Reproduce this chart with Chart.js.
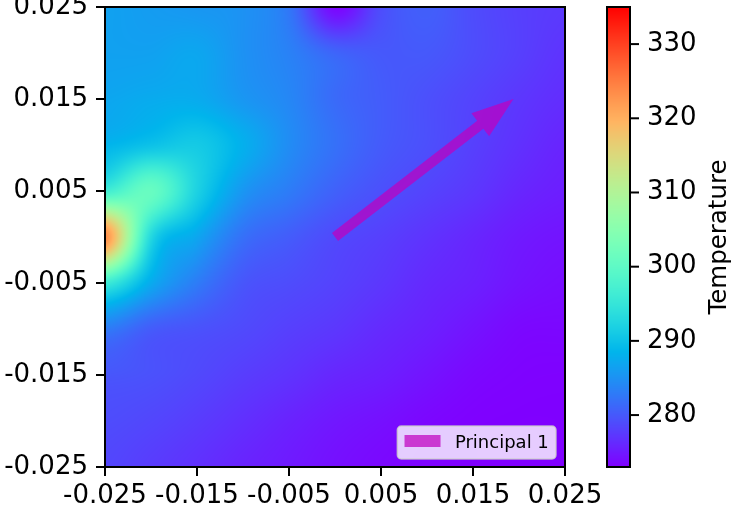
<!DOCTYPE html>
<html>
<head>
<meta charset="utf-8">
<script src="https://cdn.jsdelivr.net/npm/chart.js@4.4.1/dist/chart.umd.min.js"></script>
<style>
    html, body { margin: 0; padding: 0; background: #fff; }
    #wrap { width: 748px; height: 515px; }
</style>
</head>
<body>
<div id="wrap"><canvas id="heatChart" width="748" height="515"></canvas></div>
<script>
// grid nodes (x left->right, y top->bottom)
const xNodes = [-0.025, -0.02, -0.015, -0.01, -0.005, 0, 0.005, 0.01, 0.015, 0.02, 0.025];
const yNodes = [0.025, 0.02, 0.015, 0.01, 0.005, 0, -0.005, -0.01, -0.015, -0.02, -0.025];

// temperature at each node, one row per yNodes entry
const temperature = [
    [286.5, 286.0, 285.5, 285.0, 282.5, 273.5, 279.0, 280.5, 279.0, 278.0, 277.5],
    [286.5, 286.5, 287.0, 285.0, 283.5, 281.0, 280.0, 280.0, 279.0, 278.0, 277.0],
    [287.0, 287.5, 287.5, 285.5, 284.0, 281.5, 280.3, 279.3, 278.3, 277.3, 276.5],
    [288.5, 290.0, 291.0, 288.0, 284.5, 282.0, 280.2, 279.2, 278.0, 276.8, 275.8],
    [296.5, 301.0, 292.0, 285.5, 283.0, 280.7, 279.3, 278.3, 277.3, 276.0, 275.3],
    [323.5, 293.0, 287.0, 282.0, 280.3, 278.8, 278.0, 277.0, 276.0, 275.0, 274.5],
    [296.0, 287.5, 283.0, 279.8, 279.0, 278.2, 277.3, 276.2, 275.5, 274.5, 274.0],
    [283.0, 280.3, 279.5, 278.8, 278.0, 277.3, 276.3, 275.5, 274.5, 273.6, 273.5],
    [279.8, 279.4, 278.7, 277.8, 277.0, 276.0, 275.4, 274.5, 273.6, 273.2, 273.1],
    [279.0, 278.5, 277.7, 276.7, 275.7, 274.8, 274.2, 273.5, 273.1, 273.0, 273.0],
    [278.5, 277.7, 276.8, 275.8, 275.0, 274.2, 273.6, 273.2, 273.0, 273.0, 273.0]
];

const axisTicks = [-0.025, -0.015, -0.005, 0.005, 0.015, 0.025];
const axisTickLabels = ['-0.025', '-0.015', '-0.005', '0.005', '0.015', '0.025'];
const colorbarTicks = [280, 290, 300, 310, 320, 330];
const tempMin = 273;
const tempMax = 335;

const arrowFrom = { x: 0, y: 0 };
const arrowTo = { x: 0.0194, y: 0.015 };
const arrowLabel = 'Principal 1';
const colorbarLabel = 'Temperature';

const FONT = '"DejaVu Sans", sans-serif';
const ARROW_COLOR = 'rgba(191, 0, 191, 0.72)';

// matplotlib "rainbow" colormap
function rainbow(t) {
    t = Math.min(1, Math.max(0, t));
    const r = Math.min(1, Math.abs(2 * t - 0.5));
    const g = Math.sin(Math.PI * t);
    const b = Math.cos(Math.PI * t / 2);
    return [Math.round(r * 255), Math.round(g * 255), Math.round(b * 255)];
}

function clampIdx(i, n) {
    return Math.max(0, Math.min(n - 1, i));
}

function cubic(p0, p1, p2, p3, t) {
    return p1 + 0.5 * t * (p2 - p0 + t * (2 * p0 - 5 * p1 + 4 * p2 - p3 + t * (3 * (p1 - p2) + p3 - p0)));
}

// smooth sample of the node grid at fractional indices
function sampleGrid(fx, fy) {
    const nx = xNodes.length, ny = yNodes.length;
    let ix = Math.floor(fx), iy = Math.floor(fy);
    if (ix > nx - 2) ix = nx - 2;
    if (iy > ny - 2) iy = ny - 2;
    const tx = fx - ix, ty = fy - iy;
    const cols = [];
    for (let m = -1; m <= 2; m++) {
        const row = temperature[clampIdx(iy + m, ny)];
        cols.push(cubic(row[clampIdx(ix - 1, nx)], row[clampIdx(ix, nx)], row[clampIdx(ix + 1, nx)], row[clampIdx(ix + 2, nx)], tx));
    }
    return cubic(cols[0], cols[1], cols[2], cols[3], ty);
}

const heatmapPlugin = {
    id: 'heatmap',
    beforeDatasetsDraw(chart) {
        const { ctx, chartArea: a, scales: { x, y } } = chart;
        const left = Math.round(a.left), top = Math.round(a.top);
        const w = Math.round(a.right) - left, h = Math.round(a.bottom) - top;
        const img = ctx.createImageData(w, h);
        const nx = xNodes.length, ny = yNodes.length;
        const x0 = xNodes[0], x1 = xNodes[nx - 1];
        const y0 = yNodes[0], y1 = yNodes[ny - 1];
        for (let j = 0; j < h; j++) {
            const yv = y.getValueForPixel(top + j + 0.5);
            const fy = Math.max(0, Math.min(ny - 1, (y0 - yv) / (y0 - y1) * (ny - 1)));
            for (let i = 0; i < w; i++) {
                const xv = x.getValueForPixel(left + i + 0.5);
                const fx = Math.max(0, Math.min(nx - 1, (xv - x0) / (x1 - x0) * (nx - 1)));
                const v = sampleGrid(fx, fy);
                const c = rainbow((v - tempMin) / (tempMax - tempMin));
                const k = (j * w + i) * 4;
                img.data[k] = c[0];
                img.data[k + 1] = c[1];
                img.data[k + 2] = c[2];
                img.data[k + 3] = 255;
            }
        }
        ctx.putImageData(img, left, top);
    },
    afterDatasetsDraw(chart) {
        const { ctx, chartArea: a } = chart;
        const meta = chart.getDatasetMeta(0);
        const p0 = meta.data[0], p1 = meta.data[1];

        // arrow
        const dx = p1.x - p0.x, dy = p1.y - p0.y;
        const len = Math.hypot(dx, dy);
        const ux = dx / len, uy = dy / len;
        const nxv = -uy, nyv = ux;
        const sw = 5, hw = 14.5, hl = 42;
        const bx = p1.x - ux * hl, by = p1.y - uy * hl;
        ctx.save();
        ctx.beginPath();
        ctx.moveTo(p0.x + nxv * sw, p0.y + nyv * sw);
        ctx.lineTo(bx + nxv * sw, by + nyv * sw);
        ctx.lineTo(bx + nxv * hw, by + nyv * hw);
        ctx.lineTo(p1.x, p1.y);
        ctx.lineTo(bx - nxv * hw, by - nyv * hw);
        ctx.lineTo(bx - nxv * sw, by - nyv * sw);
        ctx.lineTo(p0.x - nxv * sw, p0.y - nyv * sw);
        ctx.closePath();
        ctx.fillStyle = ARROW_COLOR;
        ctx.fill();

        // legend box, sized from its text
        const fs = 18;
        ctx.font = fs + 'px ' + FONT;
        const label = chart.data.datasets[0].label;
        const tw = ctx.measureText(label).width;
        const pad = 0.4 * fs, handle = 2 * fs, gap = 0.8 * fs;
        const lw = pad + handle + gap + tw + pad, lh = 33;
        const lx = a.right - 9 - lw, ly = a.bottom - 8 - lh;
        ctx.beginPath();
        ctx.roundRect(lx, ly, lw, lh, 4);
        ctx.fillStyle = 'rgba(255, 255, 255, 0.8)';
        ctx.fill();
        ctx.strokeStyle = 'rgba(204, 204, 204, 0.8)';
        ctx.lineWidth = 1.5;
        ctx.stroke();
        ctx.fillStyle = ARROW_COLOR;
        ctx.fillRect(lx + pad, ly + 9, handle, 12);
        ctx.fillStyle = '#000';
        ctx.textAlign = 'left';
        ctx.textBaseline = 'middle';
        ctx.fillText(label, lx + pad + handle + gap, ly + lh / 2 + 1);

        // frame
        ctx.strokeStyle = '#000';
        ctx.lineWidth = 2;
        ctx.strokeRect(a.left, a.top, a.right - a.left, a.bottom - a.top);
        ctx.restore();
    },
    afterDraw(chart) {
        const { ctx, chartArea: a } = chart;
        const cb = chart.scales.cb;
        const cx0 = a.right + 42, cx1 = a.right + 65;
        ctx.save();
        for (let py = Math.round(cb.top); py < Math.round(cb.bottom); py++) {
            const c = rainbow((cb.getValueForPixel(py + 0.5) - tempMin) / (tempMax - tempMin));
            ctx.fillStyle = `rgb(${c[0]},${c[1]},${c[2]})`;
            ctx.fillRect(cx0, py, cx1 - cx0, 1);
        }
        ctx.strokeStyle = '#000';
        ctx.lineWidth = 2;
        ctx.strokeRect(cx0, cb.top, cx1 - cx0, cb.bottom - cb.top);
        colorbarTicks.forEach(v => {
            const py = cb.getPixelForValue(v);
            ctx.beginPath();
            ctx.moveTo(cx1, py);
            ctx.lineTo(cx1 + 9, py);
            ctx.stroke();
        });
        ctx.translate(a.right + 155, (cb.top + cb.bottom) / 2);
        ctx.rotate(-Math.PI / 2);
        ctx.fillStyle = '#000';
        ctx.font = '24.5px ' + FONT;
        ctx.textAlign = 'center';
        ctx.textBaseline = 'middle';
        ctx.fillText(colorbarLabel, 0, 0);
        ctx.restore();
    }
};

function fixedTicks(values) {
    return scale => { scale.ticks = values.map(v => ({ value: v })); };
}

// fixed axis size, no extra padding for edge labels
function fixSize(prop, size) {
    return s => {
        s[prop] = size;
        s.paddingTop = 0;
        s.paddingBottom = 0;
    };
}

const tickFont = { family: FONT, size: 26 };
const tickGrid = { display: true, drawOnChartArea: false, drawTicks: true, tickLength: 9, lineWidth: 2, color: '#000' };

new Chart(document.getElementById('heatChart'), {
    type: 'scatter',
    data: {
        datasets: [{
            label: arrowLabel,
            data: [arrowFrom, arrowTo],
            showLine: false,
            pointRadius: 0,
            backgroundColor: ARROW_COLOR
        }]
    },
    options: {
        responsive: false,
        animation: false,
        devicePixelRatio: 1,
        layout: { padding: { top: 7, left: 0, right: 0, bottom: 0 } },
        plugins: {
            legend: { display: false },
            tooltip: { enabled: false }
        },
        scales: {
            x: {
                type: 'linear',
                min: -0.025,
                max: 0.025,
                afterBuildTicks: fixedTicks(axisTicks),
                afterFit: s => { s.height = 48; },
                grid: tickGrid,
                border: { display: false },
                ticks: {
                    font: tickFont,
                    color: '#000',
                    padding: 5,
                    maxRotation: 0,
                    callback: (v, i) => axisTickLabels[i]
                }
            },
            y: {
                type: 'linear',
                min: -0.025,
                max: 0.025,
                afterBuildTicks: fixedTicks(axisTicks),
                afterFit: fixSize('width', 105),
                grid: tickGrid,
                border: { display: false },
                ticks: {
                    font: tickFont,
                    color: '#000',
                    padding: 8,
                    callback: (v, i) => axisTickLabels[i]
                }
            },
            cb: {
                type: 'linear',
                position: 'right',
                min: tempMin,
                max: tempMax,
                afterBuildTicks: fixedTicks(colorbarTicks),
                afterFit: fixSize('width', 183),
                grid: { display: false, drawTicks: false },
                border: { display: false },
                ticks: {
                    font: tickFont,
                    color: '#000',
                    padding: 82,
                    callback: v => String(v)
                }
            }
        }
    },
    plugins: [heatmapPlugin]
});
</script>
</body>
</html>
